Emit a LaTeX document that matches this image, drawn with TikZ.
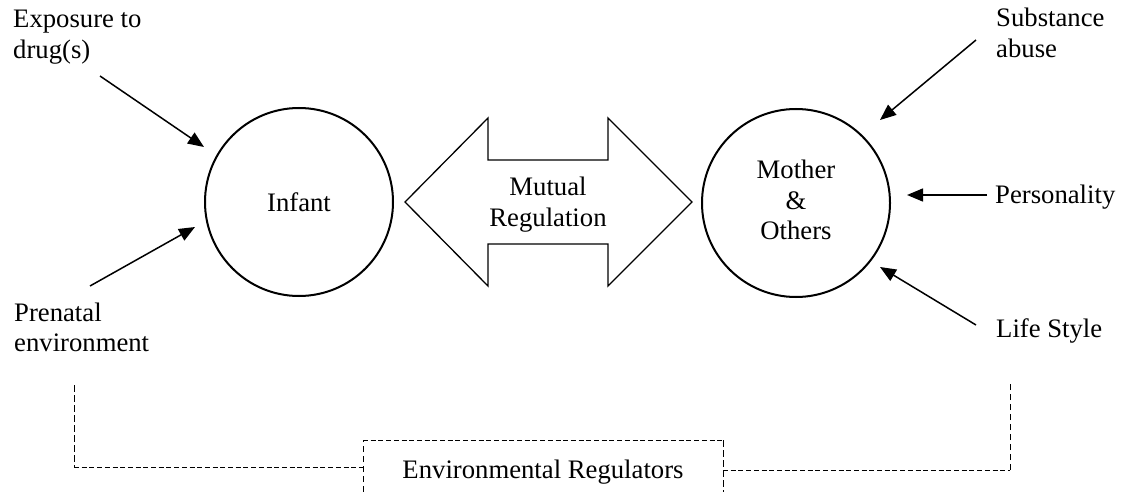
\documentclass[tikz,border=0pt]{standalone}
\usepackage{fontspec}
\setmainfont{Liberation Serif}
\usetikzlibrary{arrows.meta}
\begin{document}
\begin{tikzpicture}[x=1pt,y=-1pt,
  lbl/.style={font=\fontsize{26.7}{30.5}\selectfont, inner sep=0pt},
  circ/.style={draw, circle, line width=2pt, minimum size=188pt, inner sep=0pt, font=\fontsize{26.7}{30.5}\selectfont},
  inarrow/.style={line width=1.5pt, -{Triangle[length=16pt,width=13pt]}},
  dbl/.style={line width=1.3pt, line join=miter},
  dashH/.style={line width=1pt, dash pattern=on 5pt off 2.7pt},
  dashV/.style={line width=1pt, dash pattern=on 6.5pt off 3.5pt}]
\useasboundingbox (0,0) rectangle (1121,492);

% circles
\node[circ] (inf) at (299,202) {Infant};
\node[circ] (mom) at (796,203) {\begin{tabular}{@{}c@{}}Mother\\\&\\Others\end{tabular}};

% double arrow
\draw[dbl] (405,202) -- (488,118) -- (488,160) -- (608,160) -- (608,118) -- (692,202)
  -- (608,286) -- (608,244) -- (488,244) -- (488,286) -- cycle;
\node[lbl] (mut) at (548,205) {\begin{tabular}{@{}c@{}}Mutual\\Regulation\end{tabular}};

% labels
\node[lbl, anchor=base west] (exp) at (13,28) {\begin{tabular}[t]{@{}l@{}}Exposure to\\drug(s)\end{tabular}};
\node[lbl, anchor=base west] (pre) at (14,321) {\begin{tabular}[t]{@{}l@{}}Prenatal\\environment\end{tabular}};
\node[lbl, anchor=base west] (sub) at (996,27) {\begin{tabular}[t]{@{}l@{}}Substance\\abuse\end{tabular}};
\node[lbl, anchor=base west] (per) at (995,203) {Personality};
\node[lbl, anchor=base west] (lif) at (996,337) {Life Style};

% arrow ends
\coordinate (e1) at (100,76);  \coordinate (e2) at (204,147);
\coordinate (p1) at (90,286);  \coordinate (p2) at (195,227);
\coordinate (s1) at (976,40);  \coordinate (s2) at (880,120);
\coordinate (q1) at (987,195); \coordinate (q2) at (907,195);
\coordinate (l1) at (976,325); \coordinate (l2) at (880,267);
\draw[inarrow] (e1) -- (e2);
\draw[inarrow] (p1) -- (p2);
\draw[inarrow] (s1) -- (s2);
\draw[inarrow] (q1) -- (q2);
\draw[inarrow] (l1) -- (l2);

% environmental regulators bracket
\node[lbl, anchor=base] (env) at (543,478) {Environmental Regulators};
\coordinate (bl) at (74,385);  \coordinate (blc) at (74,467);
\coordinate (bx1) at (363,467); \coordinate (bx1t) at (363,440); \coordinate (bx1b) at (363,492);
\coordinate (bx2) at (723,470); \coordinate (bx2t) at (723,440); \coordinate (bx2b) at (723,492);
\coordinate (brc) at (1010,470); \coordinate (br) at (1010,382);
\draw[dashV] (bl) -- (blc);
\draw[dashH] (blc) -- (bx1);
\draw[dashV] (bx1b) -- (bx1t);
\draw[dashH] (bx1t) -- (bx2t);
\draw[dashV] (bx2t) -- (bx2b);
\draw[dashH] (bx2) -- (brc);
\draw[dashV] (brc) -- (br);
\end{tikzpicture}
\end{document}
